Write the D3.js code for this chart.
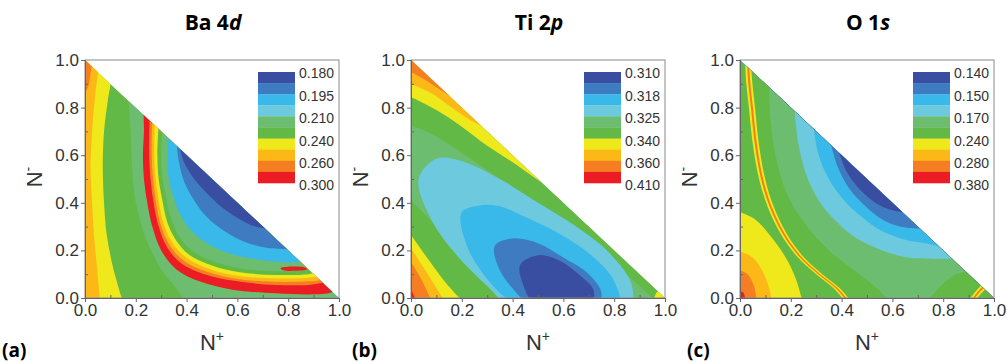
<!DOCTYPE html>
<html>
<head>
<meta charset="utf-8">
<script src="https://cdn.jsdelivr.net/npm/d3@7"></script>
<style>
  body { margin: 0; background: #fff; }
  svg text { font-family: "Liberation Sans", Arial, sans-serif; }
  .title, .panel-tag { font-family: "Open Sans", "Noto Sans", sans-serif; font-weight: bold; }
</style>
</head>
<body>
<div class="chart"></div>
<script>
// contour band colours, level 0 (lowest value, dark blue) .. level 9 (highest, red)
const levelColors = ['#3a4ea1', '#3f7bc1', '#38b9ea', '#6dcade', '#6cbd70',
                     '#63b946', '#efe81b', '#fcb817', '#f47e21', '#ec1c24'];

const majorTicks = [0, 0.2, 0.4, 0.6, 0.8, 1.0];
const minorTicks = [0.1, 0.3, 0.5, 0.7, 0.9];

const legendBa = ['0.180', '0.195', '0.210', '0.240', '0.260', '0.300'];
const legendTi = ['0.310', '0.318', '0.325', '0.340', '0.360', '0.410'];
const legendO  = ['0.140', '0.150', '0.170', '0.240', '0.280', '0.380'];

// band boundaries as [N+, N-] points.
// each layer: [level, side, boundary]; side says which part of the triangle is painted
// ('ur' above/right of the curve, 'll' below/left, 'br' bottom-right corner, 'closed' inside)
const layersBa = [
  [5, 'base', []],
  [6, 'll', [[0.105, 0.92], [0.09, 0.83], [0.075, 0.7], [0.07, 0.55], [0.075, 0.4], [0.085, 0.27], [0.11, 0.13], [0.15, -0.02]]],
  [7, 'll', [[0.055, 0.97], [0.04, 0.85], [0.028, 0.7], [0.022, 0.55], [0.028, 0.4], [0.035, 0.27], [0.047, 0.13], [0.06, -0.02]]],
  [8, 'll', [[0.028, 0.99], [0.02, 0.93], [0.01, 0.88], [-0.01, 0.85]]],
  [4, 'ur', [[0.17, 0.85], [0.18, 0.7], [0.185, 0.55], [0.2, 0.4], [0.24, 0.25], [0.3, 0.12], [0.36, 0.04], [0.4, -0.02]]],
  [9, 'ur', [[0.23, 0.79], [0.232, 0.7], [0.228, 0.6], [0.232, 0.5], [0.245, 0.4], [0.265, 0.3], [0.3, 0.2], [0.36, 0.12], [0.45, 0.07], [0.58, 0.035], [0.75, 0.02], [0.88, 0.015], [0.96, 0.02], [0.99, 0.03]]],
  [8, 'ur', [[0.255, 0.765], [0.253, 0.6], [0.258, 0.5], [0.27, 0.4], [0.29, 0.3], [0.325, 0.21], [0.38, 0.145], [0.47, 0.1], [0.6, 0.07], [0.75, 0.055], [0.88, 0.055], [0.94, 0.065]]],
  [7, 'ur', [[0.265, 0.755], [0.263, 0.6], [0.268, 0.5], [0.28, 0.4], [0.3, 0.3], [0.335, 0.22], [0.39, 0.155], [0.48, 0.11], [0.6, 0.08], [0.75, 0.068], [0.88, 0.07], [0.93, 0.075]]],
  [6, 'ur', [[0.275, 0.745], [0.273, 0.6], [0.278, 0.5], [0.29, 0.41], [0.31, 0.31], [0.345, 0.23], [0.4, 0.168], [0.49, 0.122], [0.6, 0.093], [0.75, 0.082], [0.88, 0.085], [0.915, 0.09]]],
  [5, 'ur', [[0.29, 0.73], [0.285, 0.6], [0.29, 0.5], [0.303, 0.42], [0.322, 0.325], [0.357, 0.245], [0.41, 0.182], [0.5, 0.137], [0.61, 0.108], [0.75, 0.097], [0.88, 0.1], [0.9, 0.105]]],
  [4, 'ur', [[0.305, 0.715], [0.3, 0.6], [0.305, 0.5], [0.318, 0.43], [0.337, 0.34], [0.37, 0.26], [0.423, 0.197], [0.51, 0.152], [0.62, 0.123], [0.75, 0.113], [0.86, 0.117], [0.885, 0.118]]],
  [9, 'closed', [[0.77, 0.125], [0.81, 0.132], [0.86, 0.13], [0.875, 0.121], [0.82, 0.114], [0.78, 0.117]]],
  [2, 'ur', [[0.33, 0.69], [0.325, 0.6], [0.33, 0.5], [0.35, 0.42], [0.375, 0.35], [0.42, 0.28], [0.48, 0.23], [0.56, 0.19], [0.66, 0.165], [0.78, 0.15], [0.86, 0.15]]],
  [1, 'ur', [[0.36, 0.66], [0.37, 0.57], [0.39, 0.49], [0.43, 0.41], [0.48, 0.34], [0.55, 0.28], [0.63, 0.235], [0.72, 0.21], [0.8, 0.205]]],
  [0, 'ur', [[0.37, 0.65], [0.39, 0.57], [0.43, 0.5], [0.48, 0.44], [0.54, 0.38], [0.61, 0.33], [0.67, 0.3], [0.72, 0.29]]]
];

const layersTi = [
  [4, 'base', []],
  [5, 'ur', [[-0.01, 0.73], [0.08, 0.69], [0.2, 0.61], [0.35, 0.5], [0.5, 0.385], [0.65, 0.27], [0.78, 0.16], [0.88, 0.07], [0.95, 0.0], [0.97, -0.02]]],
  [6, 'ur', [[-0.01, 0.85], [0.1, 0.79], [0.2, 0.72], [0.3, 0.64], [0.4, 0.57], [0.48, 0.51], [0.56, 0.45]]],
  [7, 'ur', [[-0.01, 0.905], [0.08, 0.86], [0.16, 0.8], [0.23, 0.75], [0.29, 0.715]]],
  [8, 'ur', [[-0.01, 0.955], [0.05, 0.92], [0.1, 0.885], [0.17, 0.835]]],
  [6, 'br', [[0.955, -0.01], [0.965, 0.02], [0.975, 0.03]]],
  [5, 'll', [[-0.01, 0.42], [0.1, 0.3], [0.2, 0.18], [0.3, 0.06], [0.35, -0.01]]],
  [6, 'll', [[-0.01, 0.28], [0.07, 0.16], [0.14, 0.06], [0.2, -0.01]]],
  [7, 'll', [[-0.01, 0.225], [0.06, 0.11], [0.13, -0.01]]],
  [8, 'll', [[-0.01, 0.17], [0.04, 0.08], [0.08, -0.01]]],
  [9, 'll', [[-0.01, 0.06], [0.02, -0.01]]],
  [3, 'closed', [[0.03, 0.5], [0.1, 0.585], [0.2, 0.575], [0.35, 0.5], [0.5, 0.4], [0.65, 0.3], [0.78, 0.19], [0.87, 0.05], [0.85, -0.1], [0.6, -0.15], [0.4, -0.05], [0.3, 0.05], [0.18, 0.18], [0.08, 0.33]]],
  [2, 'closed', [[0.2, 0.36], [0.28, 0.39], [0.35, 0.385], [0.45, 0.34], [0.6, 0.26], [0.72, 0.17], [0.8, 0.07], [0.82, -0.05], [0.6, -0.1], [0.4, -0.02], [0.3, 0.08], [0.22, 0.22]]],
  [1, 'closed', [[0.33, 0.22], [0.4, 0.25], [0.5, 0.23], [0.6, 0.17], [0.7, 0.1], [0.75, 0.02], [0.72, -0.05], [0.5, -0.05], [0.4, 0.04], [0.34, 0.14]]],
  [0, 'closed', [[0.43, 0.14], [0.5, 0.18], [0.58, 0.16], [0.66, 0.1], [0.72, 0.03], [0.7, -0.04], [0.5, -0.04], [0.44, 0.06]]]
];

const layersO = [
  [5, 'base', []],
  [6, 'll', [[-0.01, 0.365], [0.06, 0.33], [0.12, 0.26], [0.18, 0.17], [0.22, 0.08], [0.245, -0.01]]],
  [7, 'll', [[-0.01, 0.2], [0.05, 0.17], [0.09, 0.11], [0.115, 0.04], [0.125, -0.01]]],
  [8, 'll', [[-0.01, 0.12], [0.03, 0.1], [0.055, 0.05], [0.065, -0.01]]],
  [9, 'll', [[-0.01, 0.035], [0.015, 0.02], [0.02, -0.01]]],
  [6, 'ur', [[0.02, 1.0], [0.025, 0.9], [0.035, 0.8], [0.05, 0.65], [0.075, 0.5], [0.11, 0.38], [0.16, 0.27], [0.22, 0.18], [0.3, 0.1], [0.37, 0.04], [0.41, -0.01]]],
  [8, 'ur', [[0.028, 0.99], [0.033, 0.9], [0.043, 0.8], [0.058, 0.65], [0.083, 0.5], [0.118, 0.38], [0.168, 0.27], [0.228, 0.18], [0.308, 0.1], [0.378, 0.04], [0.418, -0.01]]],
  [6, 'ur', [[0.036, 0.98], [0.041, 0.9], [0.051, 0.8], [0.066, 0.65], [0.091, 0.5], [0.126, 0.38], [0.176, 0.27], [0.236, 0.18], [0.316, 0.1], [0.386, 0.04], [0.426, -0.01]]],
  [5, 'ur', [[0.044, 0.97], [0.049, 0.9], [0.059, 0.8], [0.074, 0.65], [0.099, 0.5], [0.134, 0.38], [0.184, 0.27], [0.244, 0.18], [0.324, 0.1], [0.394, 0.04], [0.434, -0.01]]],
  [4, 'ur', [[0.115, 0.9], [0.12, 0.75], [0.14, 0.6], [0.18, 0.45], [0.25, 0.32], [0.35, 0.2], [0.47, 0.1], [0.55, 0.03], [0.58, -0.01]]],
  [5, 'br', [[0.74, -0.01], [0.8, 0.06], [0.85, 0.1], [0.9, 0.11]]],
  [6, 'br', [[0.9, -0.01], [0.93, 0.03], [0.95, 0.055]]],
  [8, 'br', [[0.91, -0.01], [0.937, 0.027], [0.955, 0.048]]],
  [6, 'br', [[0.918, -0.01], [0.943, 0.024], [0.96, 0.042]]],
  [5, 'br', [[0.926, -0.01], [0.95, 0.02], [0.965, 0.036]]],
  [3, 'ur', [[0.215, 0.79], [0.23, 0.65], [0.26, 0.52], [0.31, 0.41], [0.38, 0.32], [0.46, 0.25], [0.56, 0.2], [0.66, 0.17], [0.76, 0.165], [0.84, 0.165]]],
  [2, 'ur', [[0.29, 0.71], [0.31, 0.6], [0.35, 0.5], [0.41, 0.41], [0.48, 0.34], [0.56, 0.28], [0.65, 0.245], [0.73, 0.23], [0.79, 0.215]]],
  [1, 'ur', [[0.36, 0.64], [0.385, 0.55], [0.43, 0.46], [0.49, 0.39], [0.56, 0.33], [0.63, 0.3], [0.71, 0.29]]],
  [0, 'ur', [[0.39, 0.61], [0.42, 0.53], [0.46, 0.47], [0.52, 0.41], [0.58, 0.375], [0.64, 0.36]]]
];

const panels = [
  { title: ['Ba 4', 'd'], tag: '(a)', layers: layersBa, legend: legendBa, left: 85,  tagX: 2 },
  { title: ['Ti 2', 'p'], tag: '(b)', layers: layersTi, legend: legendTi, left: 411, tagX: 352 },
  { title: ['O 1', 's'],  tag: '(c)', layers: layersO,  legend: legendO,  left: 740, tagX: 687 }
];

var width = 1007, height = 362;
var plotW = 254, plotH = 238, plotTop = 60;

var svg = d3.select('.chart').append('svg')
  .attr('width', width)
  .attr('height', height);

// closing corners put the far side of each region outside the triangle
var closures = {
  ur: [[1.5, -0.5], [1.5, 1.5], [-0.5, 1.5]],
  ll: [[-0.5, -0.5], [-0.5, 1.5]],
  br: [[1.5, -0.5]]
};

panels.forEach(function(p, i) {
  var g = svg.append('g')
    .attr('transform', 'translate(' + p.left + ',' + plotTop + ')');

  var x = d3.scaleLinear().domain([0, 1]).range([0, plotW]);
  var y = d3.scaleLinear().domain([0, 1]).range([plotH, 0]);

  var tri = [[0, 0], [1, 0], [0, 1]];
  var clipId = 'tri' + i;
  g.append('clipPath').attr('id', clipId)
    .append('path')
    .attr('d', d3.line().x(d => x(d[0])).y(d => y(d[1]))(tri) + 'Z');

  var open = d3.line().x(d => x(d[0])).y(d => y(d[1])).curve(d3.curveCatmullRom);
  var closed = d3.line().x(d => x(d[0])).y(d => y(d[1])).curve(d3.curveCatmullRomClosed);

  var maps = g.append('g').attr('clip-path', 'url(#' + clipId + ')');
  p.layers.forEach(function(layer) {
    var level = layer[0], side = layer[1], pts = layer[2];
    var d;
    if (side === 'base') {
      d = d3.line().x(d => x(d[0])).y(d => y(d[1]))(tri) + 'Z';
    } else if (side === 'closed') {
      d = closed(pts);
    } else {
      d = open(pts) + closures[side].map(c => 'L' + x(c[0]) + ',' + y(c[1])).join('') + 'Z';
    }
    maps.append('path')
      .attr('d', d)
      .attr('fill', levelColors[level]);
  });

  // frame
  g.append('rect')
    .attr('width', plotW).attr('height', plotH)
    .attr('fill', 'none').attr('stroke', '#8a8a8a').attr('stroke-width', 1);

  // axes
  g.append('g')
    .attr('transform', 'translate(0,' + plotH + ')')
    .call(d3.axisBottom(x).tickValues(majorTicks).tickFormat(d3.format('.1f')).tickSizeInner(4).tickSizeOuter(0).tickPadding(2));
  g.append('g')
    .attr('transform', 'translate(0,' + plotH + ')')
    .call(d3.axisBottom(x).tickValues(minorTicks).tickFormat('').tickSizeInner(-3).tickSizeOuter(0));
  g.append('g')
    .call(d3.axisLeft(y).tickValues(majorTicks).tickFormat(d3.format('.1f')).tickSizeInner(4).tickSizeOuter(0).tickPadding(2));
  g.append('g')
    .call(d3.axisLeft(y).tickValues(minorTicks).tickFormat('').tickSizeInner(-3).tickSizeOuter(0));

  g.selectAll('.domain').attr('stroke', '#666');
  g.selectAll('.tick line').attr('stroke', '#666');
  g.selectAll('.tick text')
    .attr('fill', '#333')
    .style('font-size', '17px');

  // axis titles
  var xl = g.append('text')
    .attr('x', plotW / 2).attr('y', plotH + 52)
    .attr('text-anchor', 'middle')
    .attr('fill', '#333')
    .style('font-size', '22px')
    .text('N');
  xl.append('tspan').attr('dy', -9).style('font-size', '14px').text('+');

  var yl = g.append('text')
    .attr('transform', 'translate(-43,' + (plotH / 2 - 2) + ') rotate(-90)')
    .attr('text-anchor', 'middle')
    .attr('fill', '#333')
    .style('font-size', '22px')
    .text('N');
  yl.append('tspan').attr('dy', -9).style('font-size', '14px').text('-');

  // panel title
  var t = svg.append('text')
    .attr('class', 'title')
    .attr('x', p.left + plotW / 2 + 1).attr('y', 30)
    .attr('text-anchor', 'middle')
    .style('font-size', '21px')
    .text(p.title[0]);
  t.append('tspan').style('font-style', 'italic').text(p.title[1]);

  svg.append('text')
    .attr('class', 'panel-tag')
    .attr('x', p.tagX).attr('y', 357)
    .style('font-size', '19px')
    .text(p.tag);

  // legend: ten colour swatches, six labels
  var lx = plotW - 81, ly = 12, sw = 37, sh = 11.1;
  var lg = g.append('g').attr('transform', 'translate(' + lx + ',' + ly + ')');
  lg.selectAll('rect')
    .data(levelColors)
    .enter().append('rect')
    .attr('x', 0)
    .attr('y', (d, k) => k * sh)
    .attr('width', sw)
    .attr('height', sh + 0.3)
    .attr('fill', d => d);
  lg.selectAll('text')
    .data(p.legend)
    .enter().append('text')
    .attr('x', sw + 4)
    .attr('y', (d, k) => 1.5 + k * 22.4)
    .attr('dy', '0.35em')
    .attr('fill', '#333')
    .style('font-size', '14px')
    .text(d => d);
});
</script>
</body>
</html>
